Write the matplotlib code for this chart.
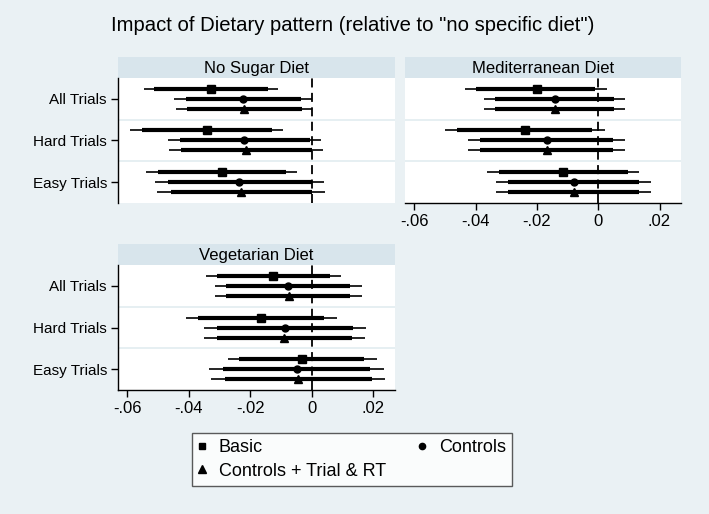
#Import packages
import numpy as np
import matplotlib as mpl
import matplotlib.pyplot as plt
from matplotlib.patches import Rectangle
from matplotlib.lines import Line2D

#Data
groups = ['All Trials', 'Hard Trials', 'Easy Trials']
models = ['Basic', 'Controls', 'Controls + Trial & RT']
panels = ['No Sugar Diet', 'Mediterranean Diet', 'Vegetarian Diet']

# rows = groups, columns = models
sugar_est = [[-0.0328, -0.0223, -0.0221], [-0.0342, -0.0219, -0.0215], [-0.0293, -0.0236, -0.0229]]
sugar_lo95 = [[-0.0546, -0.0447, -0.0443], [-0.0591, -0.0468, -0.0464], [-0.0540, -0.0510, -0.0502]]
sugar_hi95 = [[-0.0109, -0.0001, 0.0001], [-0.0093, 0.0031, 0.0035], [-0.0047, 0.0039, 0.0044]]
sugar_lo90 = [[-0.0512, -0.0410, -0.0407], [-0.0551, -0.0429, -0.0425], [-0.0501, -0.0466, -0.0458]]
sugar_hi90 = [[-0.0144, -0.0036, -0.0033], [-0.0131, -0.0006, -0.0001], [-0.0085, -0.0001, 0.0001]]

med_est = [[-0.0201, -0.0140, -0.0140], [-0.0238, -0.0167, -0.0167], [-0.0114, -0.0079, -0.0080]]
med_lo95 = [[-0.0434, -0.0371, -0.0371], [-0.0501, -0.0425, -0.0425], [-0.0363, -0.0334, -0.0334]]
med_hi95 = [[0.0030, 0.0088, 0.0088], [0.0021, 0.0088, 0.0086], [0.0134, 0.0173, 0.0173]]
med_lo90 = [[-0.0398, -0.0336, -0.0336], [-0.0459, -0.0385, -0.0385], [-0.0323, -0.0295, -0.0295]]
med_hi90 = [[-0.0010, 0.0050, 0.0050], [-0.0021, 0.0048, 0.0047], [0.0096, 0.0134, 0.0132]]

veg_est = [[-0.0125, -0.0077, -0.0075], [-0.0165, -0.0089, -0.0090], [-0.0033, -0.0049, -0.0044]]
veg_lo95 = [[-0.0343, -0.0316, -0.0315], [-0.0410, -0.0352, -0.0351], [-0.0274, -0.0334, -0.0327]]
veg_hi95 = [[0.0094, 0.0163, 0.0163], [0.0081, 0.0176, 0.0174], [0.0210, 0.0234, 0.0239]]
veg_lo90 = [[-0.0309, -0.0278, -0.0278], [-0.0370, -0.0309, -0.0309], [-0.0236, -0.0289, -0.0282]]
veg_hi90 = [[0.0059, 0.0125, 0.0125], [0.0040, 0.0132, 0.0131], [0.0170, 0.0188, 0.0194]]

xticks = [-0.06, -0.04, -0.02, 0, 0.02]
xticklabels = ['-.06', '-.04', '-.02', '0', '.02']

#Figure set up
bg = '#EAF1F4'
strip = '#D8E5EC'
sep = '#E2ECF0'
mpl.rcParams['font.family'] = 'sans-serif'
mpl.rcParams['font.sans-serif'] = ['Liberation Sans', 'DejaVu Sans']
mpl.rcParams['font.size'] = 11
mpl.rcParams['axes.linewidth'] = 1

fig = plt.figure(figsize=(7.09, 5.14), dpi=100, facecolor=bg)
W, H = 709., 514.

def make_ax(x0, y0, x1, y1):
    return fig.add_axes([x0/W, 1-y1/H, (x1-x0)/W, (y1-y0)/H])

ax1 = make_ax(118, 78, 395, 203)
ax2 = make_ax(405, 78, 681, 203)
ax3 = make_ax(118, 265, 395, 390)

markers = ['s', 'o', '^']
msizes = [5.2, 5.0, 6.0]
offs = [-0.24, 0, 0.24]

data = [(ax1, sugar_est, sugar_lo95, sugar_hi95, sugar_lo90, sugar_hi90),
        (ax2, med_est, med_lo95, med_hi95, med_lo90, med_hi90),
        (ax3, veg_est, veg_lo95, veg_hi95, veg_lo90, veg_hi90)]

for k, (ax, est, lo95, hi95, lo90, hi90) in enumerate(data):
    ax.set_facecolor('white')
    ax.set_xlim(-0.063, 0.027)
    ax.set_ylim(3.5, 0.5)
    for g in [1.5, 2.5]:
        ax.axhline(g, color=sep, lw=1.2, zorder=0)
    ax.axvline(0, color='black', lw=1.3, ls=(0, (5, 3)), zorder=1)
    for i in range(3):
        for j in range(3):
            y = i + 1 + offs[j]
            ax.plot([lo95[i][j], hi95[i][j]], [y, y], color='black', lw=1.2, solid_capstyle='butt', zorder=2)
            ax.plot([lo90[i][j], hi90[i][j]], [y, y], color='black', lw=3.0, solid_capstyle='butt', zorder=3)
            ax.plot(est[i][j], y, marker=markers[j], ms=msizes[j], color='black', ls='none', zorder=4)
    for s in ax.spines.values():
        s.set_visible(False)
    ax.tick_params(colors='black', length=5, width=1, pad=3)
    # strip header
    ax.add_patch(Rectangle((0, 1.0), 1, 21/125., transform=ax.transAxes,
                           facecolor=strip, edgecolor='none', clip_on=False))
    ax.text(0.5, 1 + 5/125., panels[k], transform=ax.transAxes,
            ha='center', va='baseline', fontsize=12)

# y axes
for ax in [ax1, ax3]:
    ax.spines['left'].set_visible(True)
    ax.set_yticks([1, 2, 3])
    ax.set_yticklabels(groups, fontsize=11)
ax2.set_yticks([])

# x axes
ax1.set_xticks([])
for ax in [ax2, ax3]:
    ax.spines['bottom'].set_visible(True)
    ax.set_xticks(xticks)
    ax.set_xticklabels(xticklabels, fontsize=12)

fig.text(353/W, 1-30.7/H, 'Impact of Dietary pattern (relative to "no specific diet")',
         ha='center', va='baseline', fontsize=14.6)

#Legend
handles = [Line2D([], [], marker=markers[j], ms=msizes[j]-0.5, color='black', ls='none') for j in range(3)]
order = [0, 2, 1]
leg = fig.legend([handles[j] for j in order], [models[j] for j in order],
                 loc='center', bbox_to_anchor=(352/W, 1-459.5/H), ncol=2,
                 frameon=True, fancybox=False, edgecolor='#333333', fontsize=13,
                 handlelength=0.4, handletextpad=0.75, columnspacing=1.8,
                 borderpad=0.35, labelspacing=0.35, borderaxespad=0)
leg.get_frame().set_linewidth(1)

fig.savefig('out.png', dpi=100, facecolor=bg)
